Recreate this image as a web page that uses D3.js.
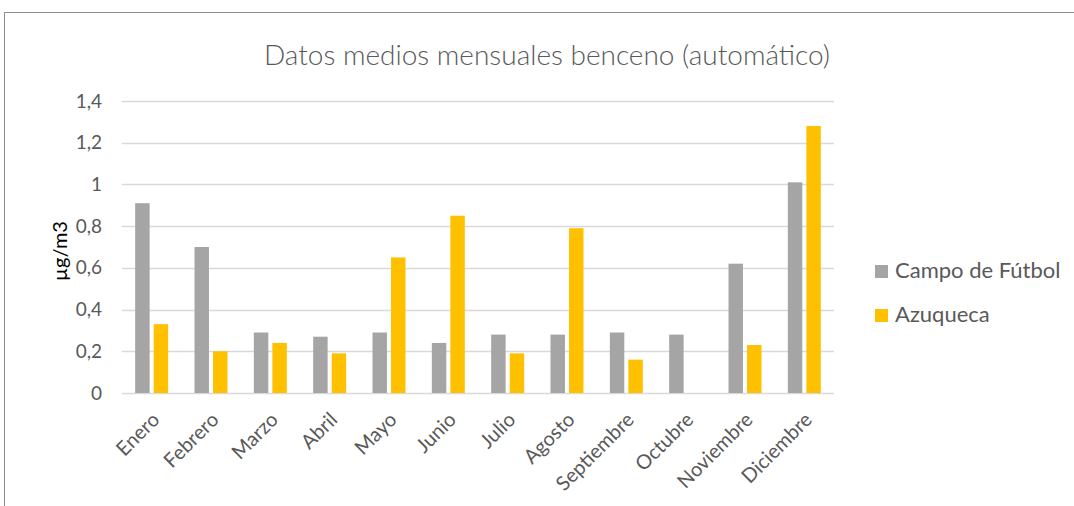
<!DOCTYPE html>
<html>
<head>
<meta charset="utf-8">
<script src="https://cdn.jsdelivr.net/npm/d3@7"></script>
<style>
  body { margin: 0; background: #fff; }
  svg { display: block; }
</style>
</head>
<body>
<svg id="chart" width="1074" height="506"></svg>
<script>
// data
var months = ["Enero", "Febrero", "Marzo", "Abril", "Mayo", "Junio", "Julio",
              "Agosto", "Septiembre", "Octubre", "Noviembre", "Diciembre"];
var campo = [0.91, 0.70, 0.29, 0.27, 0.29, 0.24, 0.28, 0.28, 0.29, 0.28, 0.62, 1.01];
var azuqueca = [0.33, 0.20, 0.24, 0.19, 0.65, 0.85, 0.19, 0.79, 0.16, null, 0.23, 1.28];
var seriesNames = ["Campo de Fútbol", "Azuqueca"];
var colors = ["#A5A5A5", "#FFC000"];
var yTicks = [0, 0.2, 0.4, 0.6, 0.8, 1, 1.2, 1.4];

var svg = d3.select("#chart"),
    font = "Lato, 'Open Sans', sans-serif",
    textColor = "#595959";

// chart frame (only top and left edges are visible)
svg.append("path")
  .attr("d", "M4.5,506 L4.5,12.5 L1074,12.5")
  .style("fill", "none")
  .style("stroke", "#8c8c8c")
  .style("stroke-width", 1);

var plotLeft = 122, plotRight = 834, plotTop = 101, plotBottom = 393;

var x = d3.scaleBand().domain(months).range([plotLeft, plotRight]).paddingInner(0).paddingOuter(0);
var y = d3.scaleLinear().domain([0, 1.4]).range([plotBottom, plotTop]);
var xs = d3.scaleBand().domain([0, 1]).range([-16.5, 16.5]).paddingInner(0.22);

// title
svg.append("text")
  .attr("x", 547)
  .attr("y", 65)
  .attr("text-anchor", "middle")
  .style("font-family", font)
  .style("font-weight", 300)
  .style("font-size", "28px")
  .style("fill", textColor)
  .text("Datos medios mensuales benceno (automático)");

// gridlines
svg.append("g")
  .selectAll("line")
  .data(yTicks)
  .enter()
  .append("line")
  .attr("x1", plotLeft)
  .attr("x2", plotRight)
  .attr("y1", function(d) { return Math.round(y(d)) + 0.5; })
  .attr("y2", function(d) { return Math.round(y(d)) + 0.5; })
  .style("stroke", "#D9D9D9")
  .style("stroke-width", 1.5);

// y axis labels
var yAxis = svg.append("g")
  .attr("transform", "translate(" + plotLeft + ",0)")
  .call(d3.axisLeft(y).tickValues(yTicks).tickSize(0).tickPadding(20)
    .tickFormat(function(d) { return String(d).replace(".", ","); }));
yAxis.select(".domain").remove();
yAxis.selectAll("text")
  .style("font-family", font)
  .style("font-size", "19px")
  .style("fill", textColor);

svg.append("text")
  .attr("transform", "translate(67,251) rotate(-90)")
  .attr("text-anchor", "middle")
  .style("font-family", font)
  .style("font-size", "20px")
  .style("fill", "#000")
  .text("µg/m3");

// bars
var rows = months.map(function(m, i) { return { month: m, vals: [campo[i], azuqueca[i]] }; });
var groups = svg.append("g")
  .selectAll("g")
  .data(rows)
  .enter()
  .append("g")
  .attr("transform", function(d) { return "translate(" + (x(d.month) + x.bandwidth() / 2) + ",0)"; });

groups.selectAll("rect")
  .data(function(d) { return d.vals.map(function(v, k) { return { v: v, k: k }; }).filter(function(e) { return e.v != null; }); })
  .enter()
  .append("rect")
  .attr("x", function(d) { return xs(d.k); })
  .attr("width", xs.bandwidth())
  .attr("y", function(d) { return y(d.v); })
  .attr("height", function(d) { return y(0) - y(d.v); })
  .style("fill", function(d) { return colors[d.k]; });

// x axis labels
var xAxis = svg.append("g")
  .attr("transform", "translate(0," + plotBottom + ")")
  .call(d3.axisBottom(x).tickSize(0).tickPadding(0));
xAxis.select(".domain").remove();
xAxis.selectAll("text")
  .attr("dy", 0)
  .attr("y", 0)
  .attr("text-anchor", "end")
  .attr("transform", "translate(9,28) rotate(-45)")
  .style("font-family", font)
  .style("font-size", "20px")
  .style("fill", textColor);

// legend
var legend = svg.append("g")
  .selectAll("g")
  .data(seriesNames)
  .enter()
  .append("g")
  .attr("transform", function(d, i) { return "translate(875," + (265 + i * 44) + ")"; });
legend.append("rect")
  .attr("width", 13)
  .attr("height", 13)
  .style("fill", function(d, i) { return colors[i]; });
legend.append("text")
  .attr("x", 20)
  .attr("y", 13)
  .style("font-family", font)
  .style("font-size", "22px")
  .style("fill", textColor)
  .text(function(d) { return d; });
</script>
</body>
</html>
